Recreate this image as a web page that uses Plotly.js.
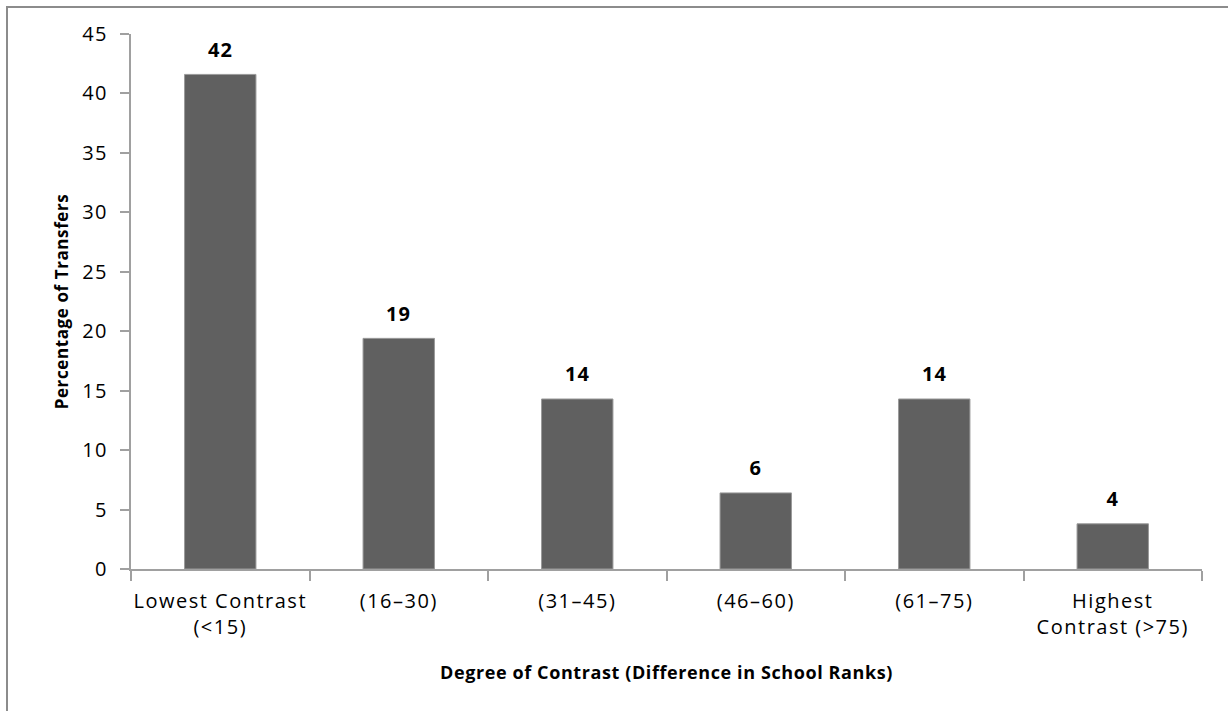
<!DOCTYPE html>
<html>
<head>
<meta charset="utf-8">
<script src="https://cdn.plot.ly/plotly-3.0.1.min.js"></script>
<style>
  html, body { margin: 0; padding: 0; background: #fff; }
  #wrap { position: relative; width: 1228px; height: 711px; }
  #chart { width: 1228px; height: 711px; }
  #frame { position: absolute; left: 6px; top: 6px; right: 0; bottom: 0;
           border-top: 2px solid #8c8c8c; border-left: 2px solid #8c8c8c; pointer-events: none; }
  #chart .xtick text, #chart .ytick text { letter-spacing: 1.5px; }
  #chart .xtitle, #chart .ytitle { letter-spacing: 0.6px; }
  #chart .annotation-text { letter-spacing: 1px; }
</style>
</head>
<body>
<div id="wrap">
  <div id="chart"></div>
  <div id="frame"></div>
</div>
<script>
const categories = ["Lowest Contrast<br>(&lt;15)", "(16–30)", "(31–45)", "(46–60)", "(61–75)", "Highest<br>Contrast (&gt;75)"];
const percentages = [41.6, 19.4, 14.3, 6.4, 14.3, 3.8];
const valueLabels = ["42", "19", "14", "6", "14", "4"];
const xTitle = "Degree of Contrast (Difference in School Ranks)";
const yTitle = "Percentage of Transfers";

const font = "'Open Sans', Lato, sans-serif";

const trace = {
  type: "bar",
  x: categories,
  y: percentages,
  width: 0.4,
  marker: { color: "#606060", line: { color: "#9a9a9a", width: 1 } },
  hoverinfo: "x+y"
};

const annotations = categories.map((c, i) => ({
  x: c, y: percentages[i], xref: "x", yref: "y",
  text: "<b>" + valueLabels[i] + "</b>",
  showarrow: false, yanchor: "middle", yshift: 25,
  font: { family: font, size: 20, color: "#000" }
}));

const layout = {
  width: 1228, height: 711,
  margin: { l: 131, r: 26, t: 34, b: 142 },
  paper_bgcolor: "#fff", plot_bgcolor: "#fff",
  showlegend: false,
  font: { family: font, size: 20, color: "#000" },
  xaxis: {
    type: "category",
    showline: true, linecolor: "#a0a0a0", linewidth: 2,
    ticks: "outside", tickson: "boundaries", ticklen: 10, tickcolor: "#a0a0a0", tickwidth: 2,
    ticklabelstandoff: 13,
    showgrid: false, zeroline: false,
    tickfont: { family: font, size: 20, color: "#000" },
    title: { text: "<b>" + xTitle + "</b>", font: { family: font, size: 18, color: "#000" }, standoff: 27 }
  },
  yaxis: {
    range: [0, 45], dtick: 5, tick0: 0,
    showline: true, linecolor: "#a0a0a0", linewidth: 2,
    ticks: "outside", ticklen: 9, tickcolor: "#a0a0a0", tickwidth: 2,
    ticklabelstandoff: 8,
    showgrid: false, zeroline: false,
    tickfont: { family: font, size: 20, color: "#000" },
    title: { text: "<b>" + yTitle + "</b>", font: { family: font, size: 17, color: "#000" }, standoff: 12 }
  },
  annotations: annotations
};

Plotly.newPlot("chart", [trace], layout, { displayModeBar: false, staticPlot: true });
</script>
</body>
</html>
